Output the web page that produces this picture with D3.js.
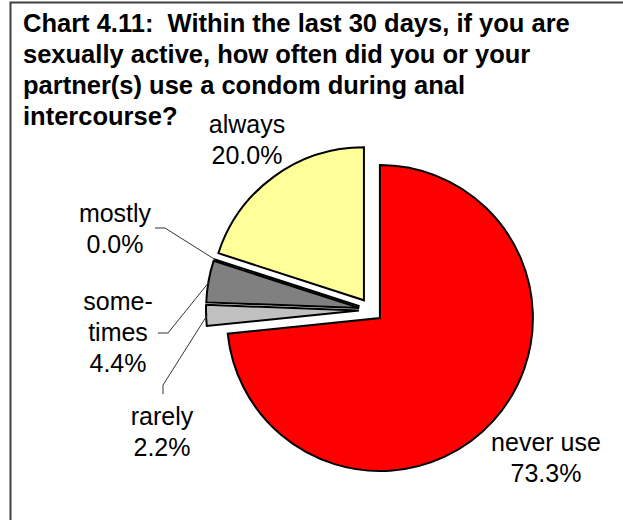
<!DOCTYPE html>
<html>
<head>
<meta charset="utf-8">
<script src="https://cdnjs.cloudflare.com/ajax/libs/d3/7.8.5/d3.min.js"></script>
<style>
  body { margin: 0; background: #fff; }
  text { font-family: "Liberation Sans", Arial, sans-serif; fill: #000; }
</style>
</head>
<body>
<div id="chart"></div>
<script>
'use strict';
// chart data
var categories = ['never use', 'rarely', 'sometimes', 'mostly', 'always'];
var labelLines = [['never use'], ['rarely'], ['some-', 'times'], ['mostly'], ['always']];
var percents = [73.3, 2.2, 4.4, 0.0, 20.0];
var titleLines = [
  'Chart 4.11:  Within the last 30 days, if you are',
  'sexually active, how often did you or your',
  'partner(s) use a condom during anal',
  'intercourse?'
];

var width = 623;
var height = 520;
var cx = 371;
var cy = 310;
var radius = 153;
var explode = 12;
var lineHeight = 31;

var color = d3.scaleOrdinal()
  .domain(categories)
  .range(['#ff0000', '#c0c0c0', '#808080', '#808080', '#ffff99']);

// where each label sits (center x, first baseline) and the elbow of its leader
var labelPos = {
  'never use': {x: 546, y: 451, leader: null},
  'rarely':    {x: 162, y: 425, leader: [[163, 394], [163, 385]]},
  'sometimes': {x: 118, y: 310, leader: [[158, 333], [168, 333]]},
  'mostly':    {x: 115, y: 222, leader: [[155, 228], [165, 228]]},
  'always':    {x: 247, y: 133, leader: null}
};

var svg = d3.select('#chart')
  .append('svg')
  .attr('width', width)
  .attr('height', height);

// chart frame (cut off at right and bottom)
svg.append('rect')
  .attr('x', 10.5)
  .attr('y', 2.5)
  .attr('width', 700)
  .attr('height', 600)
  .style('fill', 'none')
  .style('stroke', '#404040')
  .style('stroke-width', 2);

// title
svg.selectAll('.title')
  .data(titleLines)
  .enter()
  .append('text')
  .attr('class', 'title')
  .attr('x', 23)
  .attr('y', function(d, i) { return 32 + i * lineHeight; })
  .style('font-size', '25.5px')
  .style('font-weight', 'bold')
  .style('white-space', 'pre')
  .text(function(d) { return d; });

var data = categories.map(function(c, i) {
  return {name: c, value: percents[i], lines: labelLines[i]};
});

var pie = d3.pie()
  .value(function(d) { return d.value; })
  .sort(null);

var arc = d3.arc()
  .innerRadius(0)
  .outerRadius(radius);

var arcs = pie(data);

function offset(d, dist) {
  var a = (d.startAngle + d.endAngle) / 2;
  return [cx + dist * Math.sin(a), cy - dist * Math.cos(a)];
}

// slices, each pulled out a little
svg.selectAll('.slice')
  .data(arcs)
  .enter()
  .append('path')
  .attr('class', 'slice')
  .attr('transform', function(d) {
    var p = offset(d, explode);
    return 'translate(' + p[0] + ',' + p[1] + ')';
  })
  .attr('d', arc)
  .style('fill', function(d) { return color(d.data.name); })
  .style('stroke', '#000')
  .style('stroke-width', 2)
  .style('stroke-linejoin', 'miter');

// leader lines
svg.selectAll('.leader')
  .data(arcs.filter(function(d) { return labelPos[d.data.name].leader; }))
  .enter()
  .append('polyline')
  .attr('class', 'leader')
  .attr('points', function(d) {
    var pts = labelPos[d.data.name].leader.slice();
    pts.push(offset(d, explode + radius - 1));
    return pts.map(function(p) { return p.join(','); }).join(' ');
  })
  .style('fill', 'none')
  .style('stroke', '#333')
  .style('stroke-width', 1);

// labels
var fmt = d3.format('.1f');
var label = svg.selectAll('.label')
  .data(arcs)
  .enter()
  .append('text')
  .attr('class', 'label')
  .attr('text-anchor', 'middle')
  .style('font-size', '25px');

label.each(function(d) {
  var pos = labelPos[d.data.name];
  var t = d3.select(this);
  var lines = d.data.lines.concat([fmt(d.data.value) + '%']);
  lines.forEach(function(s, i) {
    t.append('tspan')
      .attr('x', pos.x)
      .attr('y', pos.y + i * lineHeight)
      .text(s);
  });
});
</script>
</body>
</html>
